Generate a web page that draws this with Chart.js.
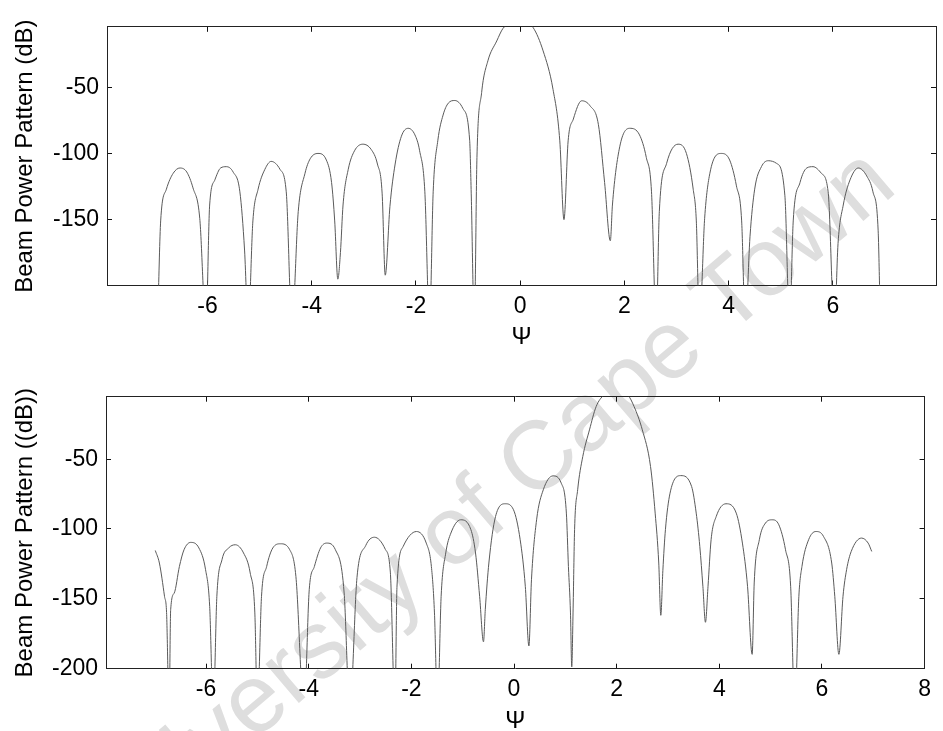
<!DOCTYPE html>
<html><head><meta charset="utf-8">
<script src="https://cdn.jsdelivr.net/npm/chart.js@4.4.1/dist/chart.umd.min.js"></script>
<style>
html,body{margin:0;padding:0;background:#fff;overflow:hidden;width:943px;height:731px;}
#wm{position:absolute;left:52px;top:806px;transform-origin:0 0;transform:rotate(-40.5deg);font-family:"Liberation Sans",Arial,sans-serif;font-size:97px;line-height:1;color:#dedede;white-space:nowrap;z-index:0;}
.box{position:absolute;left:0;width:943px;z-index:1}
</style></head><body>
<div id="wm">University of Cape Town</div>
<div class="box" style="top:0;height:365px"><canvas id="c1" width="943" height="365"></canvas></div>
<div class="box" style="top:365px;height:366px"><canvas id="c2" width="943" height="366"></canvas></div>
<script>
// ---- Top panel: beam power pattern (dB) vs psi ----
const topPsi = [-6.95,-6.90,-6.79,-6.66,-6.53,-6.40,-6.28,-6.15,-6.03,
  -5.96,-5.86,-5.75,-5.64,-5.51,-5.38,-5.29,-5.22,
  -5.13,-5.03,-4.90,-4.78,-4.61,-4.49,-4.38,
  -4.26,-4.13,-4.03,-3.88,-3.72,-3.62,-3.56,-3.50,
  -3.45,-3.40,-3.30,-3.18,-3.02,-2.86,-2.74,-2.65,-2.59,
  -2.50,-2.40,-2.28,-2.15,-2.02,-1.93,-1.83,-1.74,
  -1.67,-1.58,-1.48,-1.38,-1.255,-1.10,-0.97,-0.94,-0.88,
  -0.83,-0.74,-0.62,-0.45,-0.33,-0.15,0.00,0.10,0.25,0.44,0.63,0.76,0.84,
  0.92,1.02,1.18,1.34,1.50,1.62,1.73,
  1.77,1.91,2.10,2.29,2.42,2.52,2.61,
  2.67,2.81,3.03,3.19,3.32,3.38,3.44,
  3.54,3.64,3.86,4.02,4.15,4.25,4.32,
  4.41,4.50,4.63,4.76,4.92,5.08,5.17,
  5.24,5.37,5.50,5.62,5.78,5.91,6.03,
  6.10,6.20,6.33,6.49,6.65,6.77,6.87,6.90];
const topDb = [-215,-151,-127,-115,-111,-114,-126,-149,-230,
  -139,-120,-111,-110,-114,-129,-173,-230,
  -151,-127,-112,-106,-112,-129,-230,
  -144,-115,-104,-100,-105,-122,-151,-195,
  -175,-139,-112,-98,-93,-97,-108,-130,-192,
  -140,-108,-87,-81,-86,-98,-129,-230,
  -129,-90,-71,-62,-60,-66,-90,-130,-230,
  -103,-54,-30,-15,-5.5,-1,0,-1,-5,-22.5,-51.6,-90.5,-150,
  -90.5,-74,-60.2,-64,-78,-122,-166,
  -139,-95,-81,-86,-103,-129,-230,
  -144,-107.5,-93,-100,-127,-151,-230,
  -149,-115,-100,-105,-124.5,-151,-230,
  -163,-127,-110,-105.5,-107.5,-132,-230,
  -151,-122,-111,-110,-115,-129,-230,
  -168,-139,-120,-111,-117,-129,-158.5,-205];

// ---- Bottom panel ----
const botPsi = [-6.99,-6.91,-6.81,-6.77,-6.72,
  -6.69,-6.62,-6.52,-6.43,-6.30,-6.14,-6.01,-5.93,-5.86,
  -5.79,-5.69,-5.56,-5.43,-5.27,-5.14,-5.05,-5.00,
  -4.92,-4.82,-4.70,-4.55,-4.37,-4.25,-4.09,
  -3.99,-3.89,-3.77,-3.65,-3.48,-3.31,-3.20,
  -3.06,-2.89,-2.72,-2.51,-2.41,-2.32,
  -2.28,-2.16,-1.90,-1.71,-1.61,-1.55,-1.49,
  -1.42,-1.33,-1.23,-1.04,-0.84,-0.75,-0.67,-0.595,
  -0.56,-0.49,-0.36,-0.17,-0.01,0.12,0.22,0.29,
  0.34,0.44,0.57,0.76,0.92,1.02,1.06,1.10,1.125,
  1.15,1.18,1.24,1.34,1.47,1.60,1.75,1.98,2.22,2.34,2.50,2.66,2.75,2.82,2.86,
  2.90,2.95,3.04,3.25,3.46,3.55,3.62,3.68,3.73,
  3.78,3.84,3.94,4.13,4.33,4.45,4.55,4.64,
  4.68,4.78,4.90,5.03,5.16,5.29,5.39,5.47,
  5.55,5.61,5.74,5.88,6.03,6.19,6.25,6.33,
  6.41,6.48,6.57,6.77,6.90,6.97];
const botDb = [-115.5,-124.5,-148.4,-160,-230,
  -158,-146,-127,-115,-109.7,-113.7,-129.3,-155.6,-230,
  -148.4,-122.1,-113.7,-111.4,-117.3,-131.7,-160.3,-230,
  -148.4,-127,-113.7,-110.7,-115,-134.1,-230,
  -143.6,-127,-113.7,-110.2,-115,-146,-230,
  -135,-112,-106,-114.5,-131,-230,
  -141,-112.6,-101.9,-110.2,-127,-160.3,-230,
  -148.4,-117.3,-103,-93.5,-100.6,-117.3,-148.4,-181,
  -158,-124.5,-91.1,-82,-86.3,-107.8,-141.2,-184,
  -136.5,-93.5,-72,-62,-67.2,-88.7,-127,-160.3,-199,
  -160.3,-100.6,-72,-48.1,-29,-12.3,-4,0,-4,-12.3,-29,-55.3,-88.7,-124.5,-162,
  -130,-100.6,-74.4,-61.8,-69.6,-88.7,-112.6,-141.2,-167,
  -141.2,-107.8,-91.1,-82,-88.7,-110.2,-141.2,-190,
  -138.8,-107.8,-95.8,-93.5,-97.1,-115,-141.2,-230,
  -148.4,-127,-107.8,-101.9,-105.4,-124.5,-148.4,-190,
  -148.4,-129.3,-116.2,-106.6,-110.2,-116.2];

const FONT = '"Liberation Sans", Arial, Helvetica, sans-serif';
const topTitle = 'Beam Power Pattern (dB)';
const botTitle = 'Beam Power Pattern ((dB))';
const xLabel = 'Ψ';

function frameGrid() {
  return {display:true, drawOnChartArea:false, tickLength:-5, tickColor:'#111', tickWidth:1, lineWidth:1, color:'#111'};
}
function makeChart(id, xs, ys, o) {
  const pts = xs.map((x, i) => ({x: x, y: ys[i]}));
  const tickFont = {family: FONT, size: 23};
  const border = {display:true, color:'#222', width:1};
  return new Chart(document.getElementById(id), {
    type: 'line',
    data: {datasets: [{data: pts, xAxisID:'x', yAxisID:'y', borderColor:'#5a5a5a', borderWidth:1,
      pointRadius:0, cubicInterpolationMode:'monotone', fill:false}]},
    options: {
      responsive:false, animation:false, events:[],
      plugins:{legend:{display:false}, tooltip:{enabled:false}},
      layout:{padding:{left:0, right:o.padR, top:o.padT, bottom:0}},
      scales:{
        x:{type:'linear', position:'bottom', min:o.xmin, max:o.xmax,
          ticks:{stepSize:2, includeBounds:false, padding:12, font:tickFont, color:'#000', maxRotation:0, autoSkip:false},
          grid:frameGrid(), border:border,
          title:{display:true, text:xLabel, font:{family:FONT, size:24, lineHeight:1.2}, color:'#000', padding:{top:0, bottom:o.titlePadB}},
          afterFit:s => { s.height = o.xH; }},
        x2:{type:'linear', position:'top', min:o.xmin, max:o.xmax,
          ticks:{display:false, stepSize:2, includeBounds:false},
          grid:frameGrid(), border:border,
          afterFit:s => { s.height = 0; }},
        y:{type:'linear', position:'left', min:o.ymin, max:o.ymax,
          ticks:{stepSize:50, includeBounds:false, padding:13, font:tickFont, color:'#000'},
          grid:frameGrid(), border:border,
          title:{display:true, text:o.ytitle, font:{family:FONT, size:24, lineHeight:1.2}, color:'#000', padding:{top:10.6, bottom:0}},
          afterFit:s => { s.width = o.yW; }},
        y2:{type:'linear', position:'right', min:o.ymin, max:o.ymax,
          ticks:{display:false, stepSize:50, includeBounds:false},
          grid:frameGrid(), border:border,
          afterFit:s => { s.width = 0; }}
      }
    }
  });
}

makeChart('c1', topPsi, topDb, {xmin:-7.93, xmax:7.98, ymin:-199.8, ymax:-4.3,
  padR:7, padT:15, xH:79.5, yW:107, titlePadB:13, ytitle:topTitle});
makeChart('c2', botPsi, botDb, {xmin:-7.95, xmax:8, ymin:-200.3, ymax:-5.2,
  padR:7, padT:31.7, xH:62.3, yW:106, titlePadB:-4.5, ytitle:botTitle});
</script>
</body></html>
